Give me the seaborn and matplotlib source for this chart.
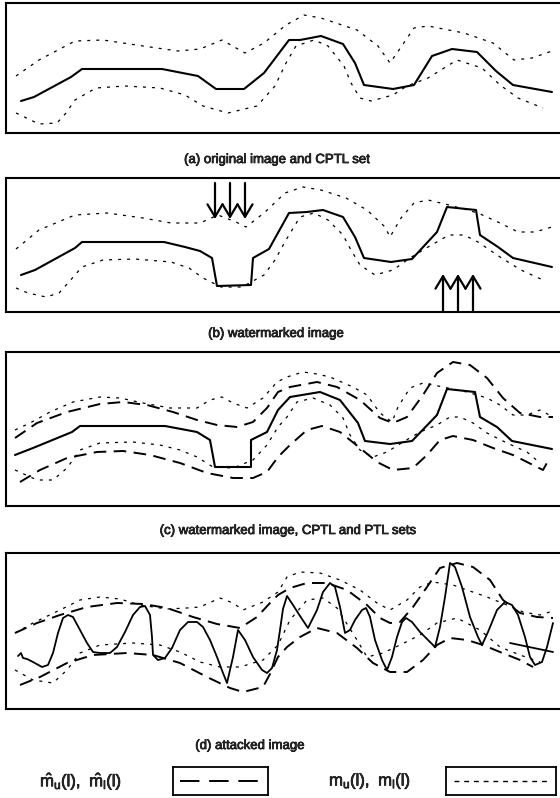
import seaborn as sns
from matplotlib import pyplot as plt
from matplotlib import patheffects

# --- panel (a): original image and CPTL set ---
a_x = [21, 34, 71, 82, 162, 198, 216, 244, 264, 289, 300, 321, 343, 355, 364, 393, 414, 432, 452, 477, 496, 513, 552]
a_y = [32, 36, 56, 64, 64, 57, 44, 44, 60, 93, 93, 97, 89, 70, 48, 44, 48, 77, 84, 81, 62, 48, 41]
a_up_x = [16, 39, 75, 103, 143, 178, 200, 222, 245, 264, 286, 304, 321, 357, 378, 390, 399, 414, 428, 464, 493, 514, 532, 552]
a_up_y = [57, 73, 92, 93, 87, 82, 84, 93, 80, 90, 108, 118, 115, 103, 87, 70, 83, 105, 107, 100, 90, 73, 75, 82]
a_lo_x = [16, 39, 57, 66, 75, 96, 125, 160, 185, 203, 228, 257, 275, 286, 296, 314, 328, 344, 351, 360, 371, 393, 407, 428, 457, 482, 500, 518, 543]
a_lo_y = [20, 9, 10, 20, 33, 45, 47, 45, 38, 27, 20, 27, 47, 70, 87, 93, 87, 67, 50, 35, 32, 38, 47, 55, 73, 65, 48, 35, 25]

# --- panel (b): watermarked image ---
b_x = [21, 35, 75, 82, 164, 185, 200, 212, 217, 251, 253, 269, 289, 307, 323, 343, 355, 364, 391, 412, 437, 447, 476, 480, 498, 513, 552]
b_y = [37, 42, 64, 70, 70, 65, 61, 54, 26, 27, 54, 63, 99, 100, 102, 95, 75, 54, 50, 53, 80, 105, 102, 77, 65, 54, 45]
b_up_x = [16, 39, 75, 107, 143, 171, 200, 218, 236, 246, 264, 285, 303, 321, 346, 367, 385, 390, 401, 414, 428, 449, 478, 500, 518, 535, 552]
b_up_y = [63, 82, 97, 99, 94, 89, 89, 97, 90, 85, 99, 119, 125, 122, 114, 102, 85, 75, 94, 109, 112, 107, 99, 89, 80, 80, 85]
b_lo_x = [16, 28, 46, 59, 68, 82, 103, 135, 171, 189, 203, 221, 242, 264, 275, 286, 300, 314, 328, 343, 351, 360, 375, 393, 410, 428, 449, 464, 478, 500, 521, 543]
b_lo_y = [24, 19, 15, 19, 29, 45, 52, 53, 50, 44, 34, 25, 25, 37, 52, 72, 95, 99, 92, 77, 62, 47, 37, 42, 54, 65, 77, 77, 70, 55, 42, 32]
down_arrow_x = [215, 230, 245]
up_arrow_x = [443, 458, 473]

# --- panel (c): watermarked image, CPTL and PTL sets ---
c_x = [15, 33, 72, 80, 165, 197, 210, 215, 251, 251, 267, 278, 290, 320, 340, 358, 365, 390, 412, 437, 447, 475, 480, 497, 512, 552]
c_y = [51, 58, 74, 80, 80, 74, 66, 39, 39, 66, 74, 96, 109, 114, 106, 83, 65, 62, 65, 91, 117, 114, 89, 79, 65, 57]
c_up_x = [15, 30, 50, 73, 100, 120, 143, 170, 197, 210, 222, 233, 247, 263, 277, 287, 303, 317, 330, 353, 367, 380, 392, 398, 410, 423, 443, 467, 487, 500, 513, 527, 540, 553]
c_up_y = [76, 83, 94, 104, 109, 108, 103, 98, 98, 106, 109, 103, 98, 108, 124, 129, 134, 132, 129, 119, 111, 93, 84, 99, 118, 123, 119, 114, 108, 101, 91, 91, 96, 89]
c_lo_x = [15, 37, 53, 67, 80, 100, 133, 160, 180, 197, 213, 233, 253, 267, 278, 287, 297, 313, 330, 343, 350, 360, 373, 387, 403, 420, 437, 450, 460, 473, 487, 507, 527, 540]
c_lo_y = [36, 26, 26, 38, 56, 63, 64, 61, 56, 49, 39, 38, 46, 61, 79, 89, 104, 108, 101, 88, 71, 56, 49, 54, 64, 74, 81, 89, 89, 83, 73, 63, 54, 43]
c_hup_x = [15, 37, 67, 100, 123, 147, 173, 197, 217, 237, 253, 267, 278, 290, 317, 337, 360, 380, 393, 407, 423, 437, 453, 470, 487, 503, 520, 540, 553]
c_hup_y = [68, 83, 94, 102, 104, 101, 94, 86, 81, 79, 84, 98, 114, 119, 124, 119, 106, 88, 83, 89, 111, 133, 144, 141, 128, 108, 93, 89, 89]
c_hlo_x = [20, 40, 67, 97, 123, 150, 180, 207, 233, 253, 267, 278, 290, 307, 322, 340, 360, 377, 393, 413, 427, 440, 453, 473, 493, 513, 533, 543, 548]
c_hlo_y = [24, 36, 48, 54, 55, 51, 43, 33, 28, 28, 34, 49, 61, 76, 80, 74, 58, 44, 36, 38, 51, 66, 70, 66, 58, 51, 41, 36, 45]

# --- panel (d): attacked image ---
d_x = [18, 21, 23, 27, 33, 42, 48, 53, 58, 63, 68, 73, 80, 87, 93, 100, 110, 117, 125, 133, 140, 145, 150, 152, 153, 158, 165,
       172, 180, 188, 197, 203, 210, 217, 223, 227, 233, 238, 245, 253, 262, 267, 272, 277, 280, 283, 287, 293, 300, 308,
       317, 323, 330, 335, 340, 345, 350, 355, 362, 366, 370, 375, 382, 387, 392, 397, 402, 406, 412, 420, 428, 435, 440,
       445, 450, 455, 462, 470, 478, 482, 488, 497, 505, 512, 518, 525, 530, 535, 542, 547, 553]
d_y = [53, 56, 51, 50, 47, 42, 44, 56, 76, 91, 94, 92, 79, 66, 57, 56, 56, 62, 77, 94, 102, 103, 94, 72, 54, 49, 51,
       61, 79, 87, 87, 82, 69, 52, 36, 26, 52, 79, 69, 52, 39, 36, 41, 59, 79, 100, 113, 104, 93, 81,
       99, 117, 126, 122, 102, 76, 79, 89, 99, 101, 92, 69, 49, 39, 52, 72, 87, 91, 87, 77, 69, 62, 82,
       112, 146, 142, 122, 92, 72, 64, 77, 99, 107, 104, 94, 72, 52, 44, 47, 62, 86]
d_tail_x = [510, 553]
d_tail_y = [66, 57]
d_up_x = [15, 33, 60, 80, 100, 120, 140, 167, 187, 200, 220, 233, 243, 263, 278, 287, 300, 320, 340, 360, 377, 390, 407, 420, 433, 453, 467, 487, 507, 523, 540, 553]
d_up_y = [76, 86, 99, 109, 112, 110, 104, 100, 101, 102, 111, 106, 99, 107, 117, 132, 137, 136, 129, 119, 106, 99, 109, 122, 127, 124, 119, 112, 104, 97, 94, 98]
d_lo_x = [15, 33, 53, 67, 80, 100, 133, 160, 180, 200, 220, 240, 263, 278, 290, 307, 323, 337, 357, 367, 383, 400, 420, 437, 457, 480, 500, 520, 540]
d_lo_y = [39, 29, 26, 39, 56, 64, 66, 64, 57, 47, 42, 42, 49, 64, 89, 109, 111, 101, 69, 52, 56, 64, 74, 86, 91, 79, 62, 54, 47]
d_hup_x = [15, 37, 60, 87, 117, 143, 167, 193, 217, 240, 257, 270, 278, 290, 307, 327, 347, 367, 380, 390, 400, 413, 427, 440, 457, 473, 490, 503, 520, 537, 553]
d_hup_y = [76, 86, 94, 102, 106, 105, 101, 92, 85, 81, 92, 106, 114, 121, 126, 126, 119, 104, 91, 86, 87, 102, 122, 141, 146, 142, 129, 109, 96, 92, 91]
d_hlo_x = [20, 40, 67, 93, 127, 153, 180, 207, 230, 243, 263, 270, 278, 287, 300, 317, 337, 357, 373, 390, 407, 423, 437, 450, 467, 483, 500, 520, 533]
d_hlo_y = [24, 32, 46, 54, 56, 54, 46, 32, 21, 17, 22, 35, 52, 62, 72, 81, 76, 61, 46, 37, 37, 49, 64, 71, 69, 64, 57, 49, 42]

captions = ["(a) original image and CPTL set", "(b) watermarked image",
            "(c) watermarked image, CPTL and PTL sets", "(d) attacked image"]
legend_labels = [r"$\hat{\mathrm{m}}_\mathrm{u}(\mathrm{l}),\ \hat{\mathrm{m}}_\mathrm{l}(\mathrm{l})$",
                 r"$\mathrm{m}_\mathrm{u}(\mathrm{l}),\ \mathrm{m}_\mathrm{l}(\mathrm{l})$"]

W, H = 560, 798
SOLID = dict(color="black", lw=1.5, linestyle="-")
DOT = dict(color="black", lw=0.9, linestyle=(0, (2.4, 4.8)))
DASH = dict(color="black", lw=1.4, linestyle=(0, (6.5, 3.8)))
ARROW = dict(arrowstyle="->,head_length=0.5,head_width=0.3", lw=1.6, color="black",
             mutation_scale=18, shrinkA=0, shrinkB=0)
# scanned print looks a bit heavier than the regular weight
INK = [patheffects.withStroke(linewidth=0.5, foreground="black")]

sns.set_style("white")
plt.rcParams["font.family"] = ["Liberation Sans", "DejaVu Sans"]
plt.rcParams["mathtext.fontset"] = "custom"
plt.rcParams["mathtext.rm"] = "Liberation Sans"

fig = plt.figure(figsize=(W / 100, H / 100), dpi=100)


def panel(top, bottom):
    ax = fig.add_axes([6 / W, 1 - bottom / H, (563 - 6) / W, (bottom - top) / H])
    ax.set_xlim(6, 563)
    ax.set_ylim(0, bottom - top)
    ax.set_xticks([])
    ax.set_yticks([])
    for s in ax.spines.values():
        s.set_color("black")
        s.set_linewidth(1.5)
    return ax


def curve(ax, x, y, style):
    sns.lineplot(x=x, y=y, ax=ax, sort=False, estimator=None, **style)


ax_a = panel(3, 133)
curve(ax_a, a_up_x, a_up_y, DOT)
curve(ax_a, a_lo_x, a_lo_y, DOT)
curve(ax_a, a_x, a_y, SOLID)

ax_b = panel(178, 312)
curve(ax_b, b_up_x, b_up_y, DOT)
curve(ax_b, b_lo_x, b_lo_y, DOT)
curve(ax_b, b_x, b_y, SOLID)
for x in down_arrow_x:
    ax_b.annotate("", xy=(x, 93), xytext=(x, 129), arrowprops=ARROW)
for x in up_arrow_x:
    ax_b.annotate("", xy=(x, 38), xytext=(x, 1), arrowprops=ARROW)

ax_c = panel(352, 506)
curve(ax_c, c_up_x, c_up_y, DOT)
curve(ax_c, c_lo_x, c_lo_y, DOT)
curve(ax_c, c_hup_x, c_hup_y, DASH)
curve(ax_c, c_hlo_x, c_hlo_y, DASH)
curve(ax_c, c_x, c_y, SOLID)

ax_d = panel(553, 709)
curve(ax_d, d_up_x, d_up_y, DOT)
curve(ax_d, d_lo_x, d_lo_y, DOT)
curve(ax_d, d_hup_x, d_hup_y, DASH)
curve(ax_d, d_hlo_x, d_hlo_y, DASH)
curve(ax_d, d_x, d_y, dict(SOLID, lw=1.3))
curve(ax_d, d_tail_x, d_tail_y, dict(SOLID, lw=1.3))

for txt, cx, cy in zip(captions, [277, 276, 288, 250], [160, 334, 531, 746]):
    fig.text(cx / W, 1 - cy / H, txt, ha="center", va="center", fontsize=9.5, path_effects=INK)

# legend row
fig.text(81 / W, 1 - 781 / H, legend_labels[0], ha="center", va="center", fontsize=12, path_effects=INK)
fig.text(370 / W, 1 - 781 / H, legend_labels[1], ha="center", va="center", fontsize=12, path_effects=INK)
for x0, x1, style in [(173, 268, dict(color="black", lw=1.4, linestyle=(0, (10, 5)))),
                      (446, 556, dict(color="black", lw=1.0, linestyle=(0, (3.5, 3.5))))]:
    lax = fig.add_axes([x0 / W, 1 - 795 / H, (x1 - x0) / W, 28 / H])
    lax.set_xticks([])
    lax.set_yticks([])
    for s in lax.spines.values():
        s.set_color("black")
        s.set_linewidth(1.3)
    lax.axhline(0.5, xmin=0.07, xmax=0.92, **style)

fig.savefig("out.png", dpi=100)
